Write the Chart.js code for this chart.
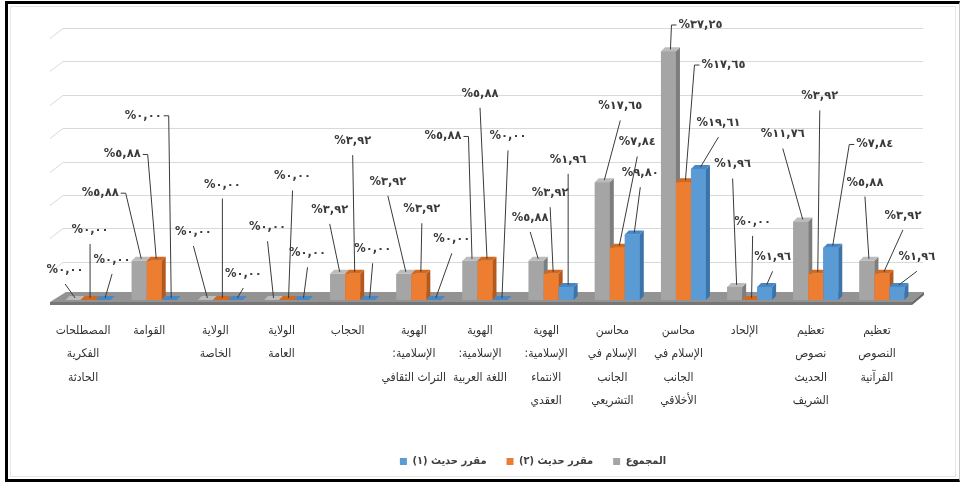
<!DOCTYPE html>
<html>
<head>
<meta charset="utf-8">
<script src="https://cdn.jsdelivr.net/npm/chart.js@4.4.1/dist/chart.umd.min.js"></script>
<style>
html,body{margin:0;padding:0;background:#fff;}
#wrap{position:relative;width:962px;height:483px;overflow:hidden;}
canvas{position:absolute;left:0;top:0;}
#inner{position:absolute;left:10px;top:6px;width:946px;height:471px;box-sizing:border-box;border:1px solid #e6e6e6;pointer-events:none;}
#frame{position:absolute;left:5px;top:1px;width:955px;height:481px;box-sizing:border-box;border-left:3px solid #000;border-top:3px solid #000;border-bottom:3px solid #000;border-right:1px solid #c8c8c8;pointer-events:none;}
</style>
</head>
<body>
<div id="wrap">
<canvas id="c" width="962" height="483" dir="rtl"></canvas>
<div id="inner"></div>
<div id="frame"></div>
</div>
<script>
// ---- categories (logical right-to-left order: first = rightmost) ----
const categories = [
  ['تعظيم', 'النصوص', 'القرآنية'],
  ['تعظيم', 'نصوص', 'الحديث', 'الشريف'],
  ['الإلحاد'],
  ['محاسن', 'الإسلام في', 'الجانب', 'الأخلاقي'],
  ['محاسن', 'الإسلام في', 'الجانب', 'التشريعي'],
  ['الهوية', 'الإسلامية:', 'الانتماء', 'العقدي'],
  ['الهوية', 'الإسلامية:', 'اللغة العربية'],
  ['الهوية', 'الإسلامية:', 'التراث الثقافي'],
  ['الحجاب'],
  ['الولاية', 'العامة'],
  ['الولاية', 'الخاصة'],
  ['القوامة'],
  ['المصطلحات', 'الفكرية', 'الحادثة']
];
const seriesNames = ['المجموع', 'مقرر حديث (٢)', 'مقرر حديث (١)'];

// ---- series values (%) ----
const totalValues   = [5.88, 11.76, 1.96, 37.25, 17.65, 5.88, 5.88, 3.92, 3.92, 0, 0, 5.88, 0];
const course2Values = [3.92, 3.92, 0, 17.65, 7.84, 3.92, 5.88, 3.92, 3.92, 0, 0, 5.88, 0];
const course1Values = [1.96, 7.84, 1.96, 19.61, 9.80, 1.96, 0, 0, 0, 0, 0, 0, 0];

// ---- value-axis ticks ----
const yTickValues = [0, 5, 10, 15, 20, 25, 30, 35, 40];

// ---- data-label placement (label height on value axis, horizontal shift) ----
const totalLabelLevel   = [17.6, 24.8, 20.3, 41.2, 29, 12.3, 24.5, 17.7, 13.5, 10.9, 10.2, 16, 4.5];
const totalLabelShift   = [-2, -18, -2, 32, 18, -6, -27, -16, -8, -4, -12, -39, -8];
const course2LabelLevel = [12.6, 30.5, 11.7, 35.2, 23.6, 16, 30.9, 13.6, 23.8, 18.5, 17.3, 21.8, 10.5];
const course2LabelShift = [21, 4, 3, 40, 20, -1, -5, 3, 0, 6, 2, -32, 2];
const course1LabelLevel = [6.4, 23.3, 6.4, 26.5, 19, 21, 24.5, 9.1, 7.6, 7, 3.9, 27.6, 6];
const course1LabelShift = [20, 44, 8, 20, 8, 2, 8, 18, 5, 6, 8, -26, 9];

const labelLevels = [totalLabelLevel, course2LabelLevel, course1LabelLevel];
const labelShifts = [totalLabelShift, course2LabelShift, course1LabelShift];

const frontColors = ['#a5a5a5', '#ed7d31', '#5b9bd5'];
const sideColors  = ['#7d7d7d', '#b4591b', '#3b74ab'];
const topColors   = ['#bcbcbc', '#d2691f', '#4787c6'];

const arabicDigits = '٠١٢٣٤٥٦٧٨٩';
function fmt(v) {
  return '%' + v.toFixed(2).replace('.', ',').replace(/\d/g, d => arabicDigits[+d]);
}

const DEPTH_X = 4, DEPTH_Y = 4;
const ARABIC_FONT = '"DejaVu Sans Condensed", "DejaVu Sans"';

const floorPlugin = {
  id: 'floor3d',
  beforeDatasetsDraw(chart) {
    const {ctx, chartArea: {left: L, right: R}, scales: {y}} = chart;
    const B = y.getPixelForValue(0);
    ctx.save();
    ctx.strokeStyle = '#d9d9d9';
    ctx.lineWidth = 1;
    yTickValues.forEach(v => {
      if (v <= 0) return;
      const yy = Math.round(y.getPixelForValue(v)) + 0.5;
      ctx.beginPath();
      ctx.moveTo(L - 5, yy + 5);
      ctx.lineTo(L + 8, yy - 5);
      ctx.lineTo(R + 8, yy - 5);
      ctx.stroke();
    });
    ctx.fillStyle = '#939393';
    ctx.beginPath();
    ctx.moveTo(L - 5, B + 2);
    ctx.lineTo(R - 3, B + 2);
    ctx.lineTo(R + 9, B - 8);
    ctx.lineTo(L + 11, B - 8);
    ctx.closePath();
    ctx.fill();
    ctx.fillStyle = '#767676';
    ctx.fillRect(L - 5, B + 2, (R - 3) - (L - 5), 3);
    ctx.fillStyle = '#666666';
    ctx.beginPath();
    ctx.moveTo(R - 3, B + 2);
    ctx.lineTo(R + 9, B - 8);
    ctx.lineTo(R + 9, B - 5);
    ctx.lineTo(R - 3, B + 5);
    ctx.closePath();
    ctx.fill();
    ctx.restore();
  }
};

const bars3dPlugin = {
  id: 'bars3d',
  afterDatasetsDraw(chart) {
    const {ctx, scales: {y}} = chart;
    ctx.save();
    chart.data.datasets.forEach((ds, di) => {
      const meta = chart.getDatasetMeta(di);
      meta.data.forEach(el => {
        const {x, y: top, base, width} = el.getProps(['x', 'y', 'base', 'width'], true);
        const l = x - width / 2, r = x + width / 2;
        el.draw(ctx);
        ctx.fillStyle = sideColors[di];
        ctx.beginPath();
        ctx.moveTo(r, top);
        ctx.lineTo(r + DEPTH_X, top - DEPTH_Y);
        ctx.lineTo(r + DEPTH_X, base - DEPTH_Y);
        ctx.lineTo(r, base);
        ctx.closePath();
        ctx.fill();
        ctx.fillStyle = topColors[di];
        ctx.beginPath();
        ctx.moveTo(l, top);
        ctx.lineTo(l + DEPTH_X, top - DEPTH_Y);
        ctx.lineTo(r + DEPTH_X, top - DEPTH_Y);
        ctx.lineTo(r, top);
        ctx.closePath();
        ctx.fill();
      });
    });
    ctx.font = 'bold 11.5px "DejaVu Sans"';
    ctx.direction = 'ltr';
    ctx.textAlign = 'center';
    ctx.textBaseline = 'middle';
    ctx.strokeStyle = '#3a3a3a';
    ctx.fillStyle = '#3a3a3a';
    ctx.lineWidth = 1;
    chart.data.datasets.forEach((ds, di) => {
      const meta = chart.getDatasetMeta(di);
      meta.data.forEach((el, i) => {
        const {x, y: top} = el.getProps(['x', 'y'], true);
        const text = fmt(ds.data[i]);
        const shift = labelShifts[di][i];
        const lx = x + shift;
        const ly = y.getPixelForValue(labelLevels[di][i]);
        const w = ctx.measureText(text).width;
        const tx = x + DEPTH_X / 2, ty = top - DEPTH_Y / 2;
        ctx.beginPath();
        if (shift >= 24) {
          ctx.moveTo(lx - w / 2 - 2, ly);
          ctx.lineTo(lx - w / 2 - 7, ly);
        } else if (shift <= -24) {
          ctx.moveTo(lx + w / 2 + 2, ly);
          ctx.lineTo(lx + w / 2 + 7, ly);
        } else {
          ctx.moveTo(lx, ly + 14);
        }
        ctx.lineTo(tx, ty);
        ctx.stroke();
        ctx.fillText(text, lx, ly);
      });
    });
    ctx.restore();
  }
};

const legendShiftPlugin = {
  id: 'legendShift',
  afterLayout(chart) {
    if (chart.legend) {
      chart.legend.left += 48;
      chart.legend.right += 48;
    }
  }
};

new Chart(document.getElementById('c'), {
  type: 'bar',
  data: {
    labels: categories,
    datasets: [
      {label: seriesNames[0], data: totalValues, backgroundColor: frontColors[0]},
      {label: seriesNames[1], data: course2Values, backgroundColor: frontColors[1]},
      {label: seriesNames[2], data: course1Values, backgroundColor: frontColors[2]}
    ]
  },
  options: {
    responsive: false,
    animation: false,
    devicePixelRatio: 1,
    layout: {padding: {top: 33, left: 55, right: 47, bottom: 6}},
    datasets: {bar: {categoryPercentage: 0.68, barPercentage: 1, borderWidth: 0}},
    scales: {
      x: {
        reverse: true,
        grid: {display: false},
        border: {display: false},
        ticks: {
          autoSkip: false, maxRotation: 0, minRotation: 0,
          padding: 11, labelOffset: -5, color: '#333',
          font: {family: ARABIC_FONT, size: 12, lineHeight: 1.95}
        },
        afterFit(scale) { scale.height = 136; }
      },
      y: {display: false, min: 0, max: 40, ticks: {stepSize: 5}}
    },
    plugins: {
      tooltip: {enabled: false},
      legend: {
        position: 'bottom',
        reverse: true,
        textDirection: 'rtl',
        labels: {
          boxWidth: 7, boxHeight: 7, padding: 20, color: '#404040',
          font: {family: ARABIC_FONT, size: 11, weight: 'bold'}
        }
      }
    }
  },
  plugins: [floorPlugin, bars3dPlugin, legendShiftPlugin]
});
</script>
</body>
</html>
